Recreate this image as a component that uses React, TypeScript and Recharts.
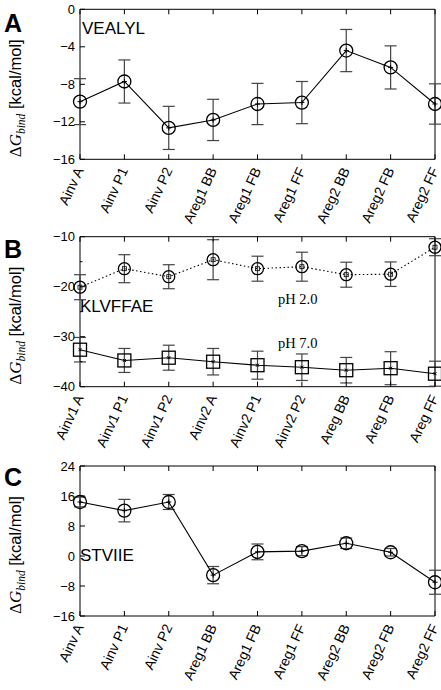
import React from "react";
import { ComposedChart, Line, XAxis, YAxis, ErrorBar, ReferenceArea } from "recharts";

// categories
const panelACats = ["Ainv A", "Ainv P1", "Ainv P2", "Areg1 BB", "Areg1 FB", "Areg1 FF", "Areg2 BB", "Areg2 FB", "Areg2 FF"];
const panelBCats = ["Ainv1 A", "Ainv1 P1", "Ainv1 P2", "Ainv2 A", "Ainv2 P1", "Ainv2 P2", "Areg BB", "Areg FB", "Areg FF"];
const panelCCats = ["Ainv A", "Ainv P1", "Ainv P2", "Areg1 BB", "Areg1 FB", "Areg1 FF", "Areg2 BB", "Areg2 FB", "Areg2 FF"];

// series values (kcal/mol) and error bars
const vealylValues = [-9.85, -7.7, -12.65, -11.8, -10.1, -9.95, -4.4, -6.2, -10.1];
const vealylErrors = [2.45, 2.3, 2.3, 2.2, 2.2, 2.25, 2.25, 2.3, 2.15];

const ph2Values = [-20.1, -16.4, -18.0, -14.6, -16.4, -16.0, -17.6, -17.5, -12.1];
const ph2Errors = [2.5, 2.8, 2.4, 4.0, 2.5, 2.9, 2.5, 2.45, 1.7];
const ph7Values = [-32.6, -34.75, -34.2, -35.0, -35.7, -36.1, -36.7, -36.3, -37.4];
const ph7Errors = [2.45, 2.4, 2.5, 2.65, 2.8, 2.65, 2.55, 3.3, 2.5];

const stviieValues = [14.4, 12.1, 14.4, -5.1, 1.1, 1.3, 3.4, 1.0, -7.0];
const stviieErrors = [1.3, 3.0, 2.0, 2.3, 2.1, 1.2, 1.4, 1.0, 3.2];

// y ticks
const aMajor = [-16, -12, -8, -4, 0];
const aMinor = [-14, -10, -6, -2];
const bMajor = [-40, -30, -20, -10];
const bMinor = [-35, -25, -15];
const cMajor = [-16, -8, 0, 8, 16, 24];
const cMinor = [-12, -4, 4, 12, 20];

const SANS = "'Liberation Sans', Arial, Helvetica, sans-serif";
const SERIF = "'Liberation Serif', 'Times New Roman', serif";
const W = 441;
const H = 230;
const PLOT_W = 375;
const PLOT_H = 150;

const dataA = panelACats.map((cat, i) => ({ cat, v: vealylValues[i], e: vealylErrors[i] }));
const dataB = panelBCats.map((cat, i) => ({ cat, p2: ph2Values[i], e2: ph2Errors[i], p7: ph7Values[i], e7: ph7Errors[i] }));
const dataC = panelCCats.map((cat, i) => ({ cat, v: stviieValues[i], e: stviieErrors[i] }));

const fmt = (v: number) => (v < 0 ? "\u2212" + Math.abs(v) : String(v));

const YTick = ({ x, y, payload, majors }: any) => {
  const major = majors.includes(payload.value);
  const len = major ? 5 : 2.5;
  return (
    <g>
      <line x1={x} x2={x + len} y1={y} y2={y} stroke="#000" />
      <line x1={x + PLOT_W} x2={x + PLOT_W - len} y1={y} y2={y} stroke="#000" />
      {major && (
        <text x={x - 5} y={y} dy={4.5} textAnchor="end" fontSize={13} fontFamily={SANS} fill="#000">
          {fmt(payload.value)}
        </text>
      )}
    </g>
  );
};

const XTick = ({ x, y, payload }: any) => {
  const ax = x + 4;
  const ay = y + 11;
  return (
    <g>
      <line x1={x} x2={x} y1={y} y2={y - 5} stroke="#000" />
      <line x1={x} x2={x} y1={y - PLOT_H} y2={y - PLOT_H + 5} stroke="#000" />
      <text x={ax} y={ay} textAnchor="end" fontSize={14} fontFamily={SANS} fill="#000" transform={`rotate(-65, ${ax}, ${ay})`}>
        {payload.value}
      </text>
    </g>
  );
};

// y axis title, anchored at the bottom of the plot, reading upwards
const YLabel = ({ viewBox }: any) => {
  const x = 21;
  const y = viewBox.y + viewBox.height - 2;
  return (
    <text x={x} y={y} textAnchor="start" transform={`rotate(-90, ${x}, ${y})`} fill="#000">
      <tspan fontFamily={SERIF} fontSize={17}>Δ</tspan>
      <tspan fontFamily={SERIF} fontStyle="italic" fontSize={17}>G</tspan>
      <tspan fontFamily={SERIF} fontStyle="italic" fontSize={11.5} dy={4}>bind</tspan>
      <tspan fontFamily={SANS} fontSize={16.5} dy={-4}> [kcal/mol]</tspan>
    </text>
  );
};

const circlePlus = (props: any) => {
  const { cx, cy, index } = props;
  return (
    <g key={`cp${index}`}>
      <circle cx={cx} cy={cy} r={6.5} fill="none" stroke="#000" strokeWidth={1.3} />
      <path d={`M${cx - 2.5},${cy}H${cx + 2.5}M${cx},${cy - 2.5}V${cy + 2.5}`} stroke="#000" strokeWidth={1} />
    </g>
  );
};

const circleSquare = (props: any) => {
  const { cx, cy, index } = props;
  return (
    <g key={`cs${index}`}>
      <circle cx={cx} cy={cy} r={6} fill="none" stroke="#000" strokeWidth={1.3} />
      <rect x={cx - 2} y={cy - 2} width={4} height={4} fill="none" stroke="#000" strokeWidth={0.8} />
    </g>
  );
};

const squareCross = (props: any) => {
  const { cx, cy, index } = props;
  return (
    <g key={`sq${index}`}>
      <rect x={cx - 6.5} y={cy - 6.5} width={13} height={13} fill="none" stroke="#000" strokeWidth={1.3} />
      <path d={`M${cx - 1.5},${cy - 1.5}L${cx + 1.5},${cy + 1.5}M${cx - 1.5},${cy + 1.5}L${cx + 1.5},${cy - 1.5}`} stroke="#000" strokeWidth={1} />
    </g>
  );
};

const Panel = ({ data, top, marginTop, domain, majors, minors, children }: any) => (
  <div style={{ position: "absolute", left: 0, top }}>
    <ComposedChart width={W} height={H} data={data} margin={{ top: marginTop, right: 6, left: 20, bottom: H - marginTop - PLOT_H - 70 }}>
      <XAxis dataKey="cat" interval={0} axisLine={false} tickLine={false} tickSize={0} tickMargin={0} height={70} tick={<XTick />} />
      <YAxis
        domain={domain}
        ticks={[...majors, ...minors].sort((a, b) => a - b)}
        allowDataOverflow
        width={60}
        axisLine={false}
        tickLine={false}
        tickSize={0}
        tickMargin={0}
        tick={<YTick majors={majors} />}
        label={{ content: (p: any) => <YLabel {...p} /> }}
      />
      <ReferenceArea y1={domain[0]} y2={domain[1]} fill="none" stroke="#000" strokeWidth={1} ifOverflow="visible" />
      {children}
    </ComposedChart>
  </div>
);

export default function App() {
  return (
    <div style={{ position: "absolute", left: 0, top: 0, width: W, height: 690, background: "#fff" }}>
      <Panel data={dataA} top={0} marginTop={9.3} domain={[-16, 0]} majors={aMajor} minors={aMinor}>
        <Line dataKey="v" stroke="#000" strokeWidth={1.1} dot={circlePlus} activeDot={false} isAnimationActive={false}>
          <ErrorBar dataKey="e" width={6} stroke="#444" strokeWidth={1.2} direction="y" />
        </Line>
      </Panel>
      <Panel data={dataB} top={227} marginTop={9.7} domain={[-40, -10]} majors={bMajor} minors={bMinor}>
        <Line dataKey="p2" stroke="#000" strokeWidth={1.1} strokeDasharray="1.5 2.5" dot={circleSquare} activeDot={false} isAnimationActive={false}>
          <ErrorBar dataKey="e2" width={6} stroke="#444" strokeWidth={1.2} direction="y" />
        </Line>
        <Line dataKey="p7" stroke="#000" strokeWidth={1.1} dot={squareCross} activeDot={false} isAnimationActive={false}>
          <ErrorBar dataKey="e7" width={6} stroke="#444" strokeWidth={1.2} direction="y" />
        </Line>
      </Panel>
      <Panel data={dataC} top={456} marginTop={10} domain={[-16, 24]} majors={cMajor} minors={cMinor}>
        <Line dataKey="v" stroke="#000" strokeWidth={1.1} dot={circlePlus} activeDot={false} isAnimationActive={false}>
          <ErrorBar dataKey="e" width={6} stroke="#444" strokeWidth={1.2} direction="y" />
        </Line>
      </Panel>
      <svg width={W} height={690} style={{ position: "absolute", left: 0, top: 0, pointerEvents: "none" }}>
        <text x={4} y={32} fontFamily={SANS} fontWeight="bold" fontSize={25} fill="#000">A</text>
        <text x={4} y={258} fontFamily={SANS} fontWeight="bold" fontSize={25} fill="#000">B</text>
        <text x={4} y={486} fontFamily={SANS} fontWeight="bold" fontSize={25} fill="#000">C</text>
        <text x={82} y={33.5} fontFamily={SANS} fontSize={17} fill="#000">VEALYL</text>
        <text x={80} y={312} fontFamily={SANS} fontSize={17} fill="#000">KLVFFAE</text>
        <text x={278} y={304} fontFamily={SERIF} fontSize={14.5} fill="#000">pH 2.0</text>
        <text x={278} y={347.7} fontFamily={SERIF} fontSize={14.5} fill="#000">pH 7.0</text>
        <text x={80} y={561} fontFamily={SANS} fontSize={17} fill="#000">STVIIE</text>
      </svg>
    </div>
  );
}
